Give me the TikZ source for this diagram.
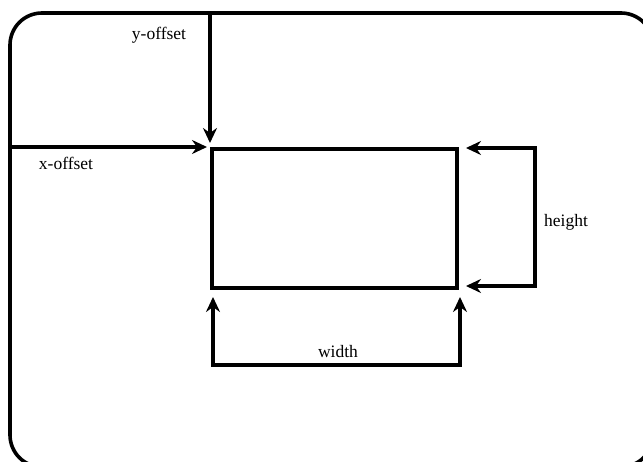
\documentclass[tikz,border=0pt]{standalone}
\usepackage{fontspec}
\setmainfont{Liberation Serif}
\usetikzlibrary{arrows.meta}
\begin{document}
\begin{tikzpicture}[x=1pt,y=-1pt,
  line width=3.6pt, line join=miter,
  arr/.style={-{Stealth[length=15pt,width=14pt,inset=5pt]}},
  darr/.style={{Stealth[length=15pt,width=14pt,inset=5pt]}-{Stealth[length=15pt,width=14pt,inset=5pt]}},
  lbl/.style={font=\fontsize{17.5}{19}\selectfont, inner sep=0pt}]
\useasboundingbox (0,0) rectangle (643,462);
\clip (0,0) rectangle (643,462);
\fill[white] (0,0) rectangle (643,462);
% outer rounded frame
\draw[rounded corners=32pt] (10,13) rectangle (653,467);
% inner window
\node[draw, line width=3.6pt, minimum width=245pt, minimum height=139pt, anchor=north west, inner sep=0pt] (win) at (210,147) {};
% offsets
\coordinate (ytop) at (210,13);
\coordinate (xleft) at (10,147);
\coordinate (ytip) at (210,143);
\coordinate (xtip) at (207,147);
\draw[arr] (ytop) -- (ytip);
\draw[arr] (xleft) -- (xtip);
% height
\coordinate (h1) at (466,148);
\coordinate (h2) at (535,148);
\coordinate (h3) at (535,286);
\coordinate (h4) at (466,286);
\draw[darr] (h1) -- (h2) -- (h3) -- (h4);
% width
\coordinate (w1) at (213,297);
\coordinate (w2) at (213,365);
\coordinate (w3) at (460,365);
\coordinate (w4) at (460,297);
\draw[darr] (w1) -- (w2) -- (w3) -- (w4);
% labels
\node[lbl] (ly) at (159,35) {y-offset};
\node[lbl] (lx) at (66,163) {x-offset};
\node[lbl] (lh) at (566,222) {height};
\node[lbl] (lw) at (338,352) {width};
\end{tikzpicture}
\end{document}
